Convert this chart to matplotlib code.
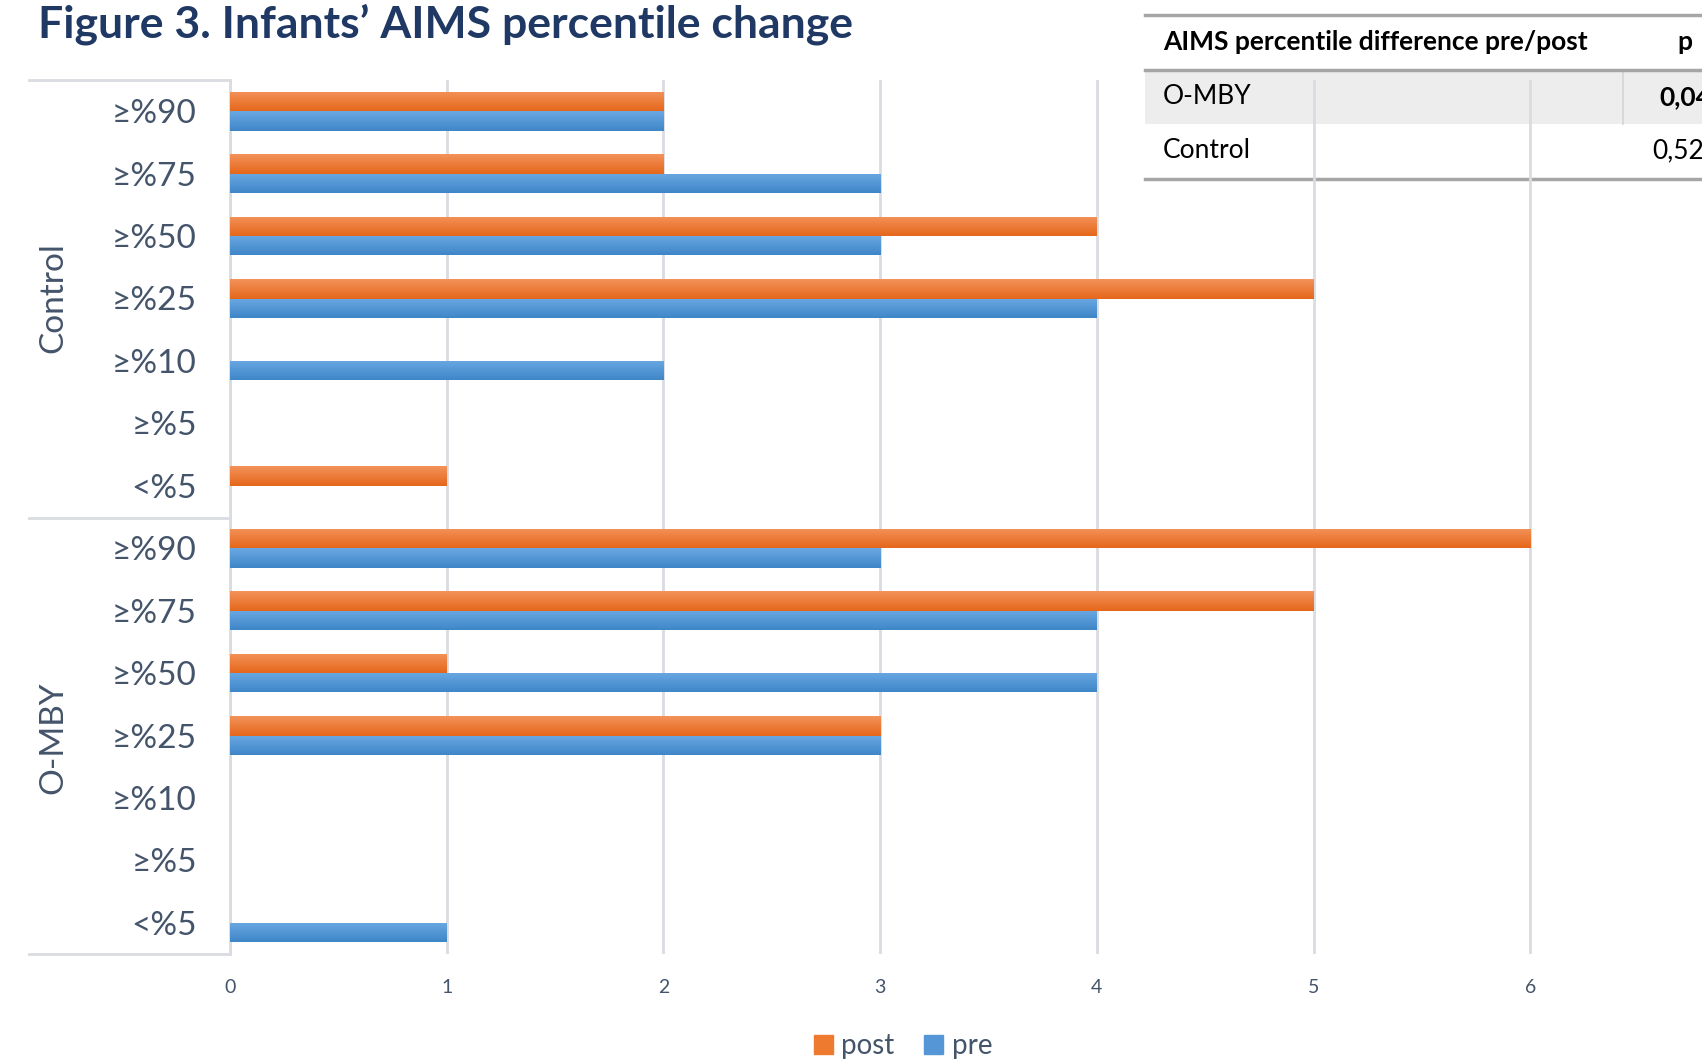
import matplotlib
matplotlib.use("Agg")
import matplotlib.pyplot as plt
from matplotlib.lines import Line2D
from matplotlib.patches import Rectangle, Patch
import numpy as np

plt.rcParams["font.family"] = ["Lato", "DejaVu Sans"]

# categories, top to bottom
groups = ["Control", "O-MBY"]
levels = ["≥%90", "≥%75", "≥%50", "≥%25", "≥%10", "≥%5", "<%5"]
control_post = [2, 2, 4, 5, 0, 0, 1]
control_pre = [2, 3, 3, 4, 2, 0, 0]
ombym_post = [6, 5, 1, 3, 0, 0, 0]
ombym_pre = [3, 4, 4, 3, 0, 0, 1]

post = control_post + ombym_post
pre = control_pre + ombym_pre
labels = levels + levels

table_header = ["AIMS percentile difference pre/post", "p"]
table_rows = [("O-MBY", "0,04", True), ("Control", "0,52", False)]

W, H = 1702, 1059
TXT = "#44546a"
GRID = "#d9dce1"

fig = plt.figure(figsize=(W / 100, H / 100), dpi=100)


def fx(px):
    return px / W


def fy(py):
    return 1 - py / H


# axes box in pixels: left 230, top 80, bottom 954, right edge of figure
ax = fig.add_axes([fx(230), fy(954), fx(W - 230), (954 - 80) / H])
ax.patch.set_alpha(0)

y = np.arange(len(labels))
bh = 0.31
bars_post = ax.barh(y - bh / 2, post, height=bh, color="#ed7d31", zorder=3)
bars_pre = ax.barh(y + bh / 2, pre, height=bh, color="#5b9bd5", zorder=3)


def shade(bars, light, dark):
    # vertical gradient like the office bar fill
    grad = np.linspace(0, 1, 64)[:, None]
    c1 = np.array(matplotlib.colors.to_rgb(light))
    c2 = np.array(matplotlib.colors.to_rgb(dark))
    img = c1[None, None, :] * (1 - grad[..., None]) + c2[None, None, :] * grad[..., None]
    for b in bars:
        w = b.get_width()
        if w <= 0:
            continue
        y0 = b.get_y()
        y1 = y0 + b.get_height()
        im = ax.imshow(img, extent=(0, w, y1, y0), origin="upper",
                       aspect="auto", zorder=3, interpolation="bilinear")
        im.set_clip_path(b)
        b.set_facecolor("none")


shade(bars_post, "#f3925a", "#e5671a")
shade(bars_pre, "#6aa8e2", "#3f86c8")

ax.set_xlim(0, (W - 230) / 216.7)
ax.set_ylim(len(labels) - 0.5, -0.5)
ax.set_xticks(range(0, 7))
ax.set_yticks(y)
ax.set_yticklabels(labels, fontsize=24, color=TXT)
ax.tick_params(axis="y", length=0, pad=24)
ax.tick_params(axis="x", length=0, pad=18, labelsize=14, labelcolor=TXT)
ax.grid(axis="x", color=GRID, linewidth=2, zorder=0)
ax.set_axisbelow(True)
for s in ["top", "right", "bottom"]:
    ax.spines[s].set_visible(False)
ax.spines["left"].set_color(GRID)
ax.spines["left"].set_linewidth(2)

# multi-level category dividers
for py in [80, 518, 954]:
    fig.add_artist(Line2D([fx(29), fx(230)], [fy(py), fy(py)], color=GRID, lw=2))

fig.text(fx(53), fy(298), groups[0], rotation=90, ha="center", va="center",
         fontsize=24, color=TXT)
fig.text(fx(53), fy(738), groups[1], rotation=90, ha="center", va="center",
         fontsize=24, color=TXT)

# title
fig.text(fx(38), fy(24), "Figure 3. Infants\u2019 AIMS percentile change",
         fontsize=32, fontweight="bold", color="#203864", ha="left", va="center")

# table in the corner, behind the plot (right column is cut by the edge, as in the source)
fig.add_artist(Rectangle((fx(1145), fy(124)), fx(W - 1145), (124 - 70) / H,
                         color="#ededed", zorder=-2, lw=0))
fig.add_artist(Line2D([fx(1623), fx(1623)], [fy(70), fy(124)], color="#d4d4d4",
                      lw=1.2, zorder=-1))
for py in [15, 70, 179]:
    fig.add_artist(Line2D([fx(1145), 1], [fy(py), fy(py)], color="#a6a6a6",
                          lw=2.5, zorder=-1))
fig.text(fx(1163), fy(42), table_header[0], fontsize=19, fontweight="bold",
         color="black", va="center", zorder=-1)
fig.text(fx(1685), fy(42), table_header[1], fontsize=19, fontweight="bold",
         color="black", va="center", ha="center", zorder=-1)
for i, (name, p, bold) in enumerate(table_rows):
    yy = 97 + i * 54
    fig.text(fx(1163), fy(yy), name, fontsize=19, color="black", va="center", zorder=-1)
    fig.text(fx(1659 if bold else 1652), fy(yy), p, fontsize=19,
             fontweight="bold" if bold else "normal", color="black",
             va="center", zorder=-1)

handles = [Patch(color="#ee7a2f"), Patch(color="#5597d6")]
fig.legend(handles, ["post", "pre"], loc="center", bbox_to_anchor=(fx(903), fy(1046)),
           ncol=2, frameon=False, fontsize=20, labelcolor=TXT, handlelength=0.7,
           handleheight=0.7, handletextpad=0.3, columnspacing=1.05)

fig.savefig("out.png", dpi=100)
